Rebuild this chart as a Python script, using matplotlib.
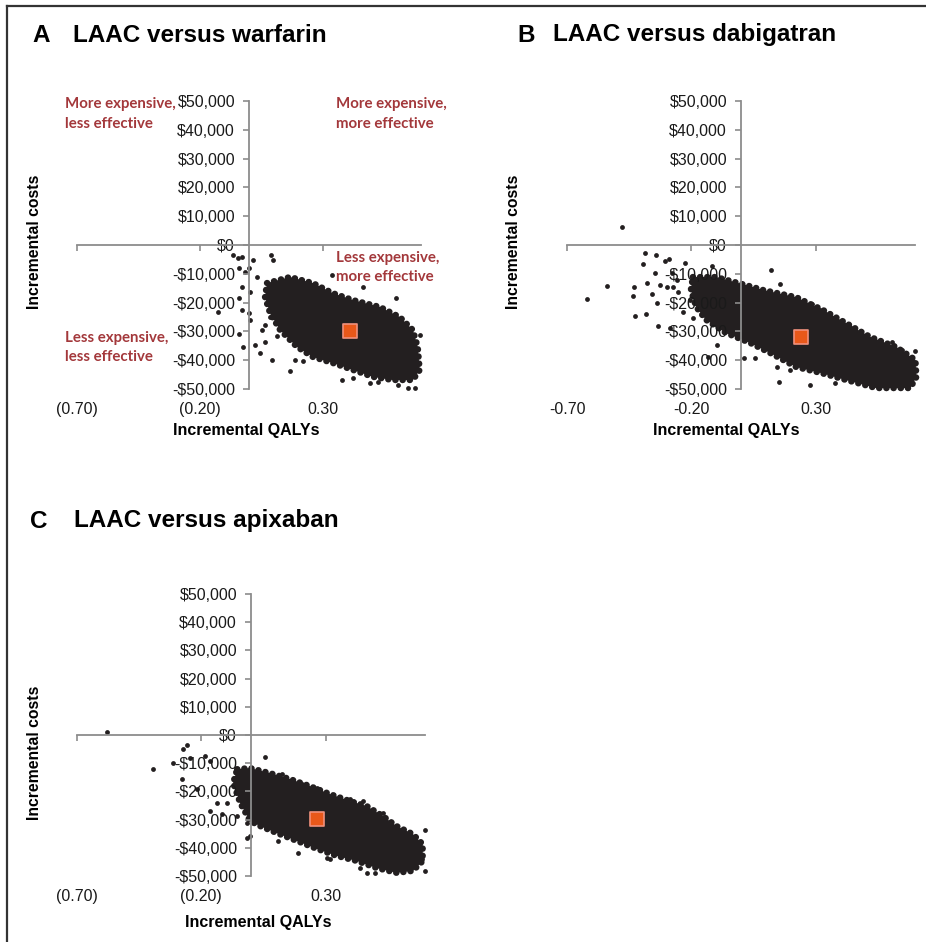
import matplotlib
matplotlib.use("Agg")
import matplotlib.pyplot as plt
from matplotlib.lines import Line2D

plt.rcParams['font.family'] = ['Liberation Sans', 'DejaVu Sans']

W, H = 926, 942

y_ticks = [-50000, -40000, -30000, -20000, -10000, 0, 10000, 20000, 30000, 40000, 50000]
x_ticks = [-0.70, -0.20, 0.30]
x_labels_paren = ['(0.70)', '(0.20)', '0.30']
x_labels_minus = ['-0.70', '-0.20', '0.30']

# A: LAAC versus warfarin  (dense cloud outline + scattered points)
a_cloud_x = [0.073, 0.167, 0.260, 0.341, 0.423, 0.533, 0.614, 0.667, 0.687, 0.695, 0.667, 0.585,
             0.504, 0.423, 0.341, 0.260, 0.195, 0.126, 0.085, 0.065]
a_cloud_y = [-13200, -11100, -13200, -16700, -19100, -21500, -25000, -29500, -35400, -43400, -46900, -46900,
             -45800, -43400, -41000, -38900, -35400, -29500, -23600, -18100]
a_pts_x = [-0.065, -0.045, -0.028, 0.016, 0.089, 0.098, -0.041, -0.016, 0.0, 0.033, -0.028, 0.004,
           -0.041, -0.028, -0.126, 0.0, 0.004, 0.053, -0.041, 0.065, -0.024, 0.024, 0.045, 0.093,
           0.114, 0.167, 0.187, 0.220, 0.260, 0.085, 0.065, 0.337, 0.463, 0.598, 0.378, 0.423,
           0.492, 0.524, 0.646, 0.675, 0.606, 0.695]
a_pts_y = [-3500, -4500, -4200, -5200, -3500, -5200, -8000, -9400, -8000, -11100, -14600, -16300,
           -18400, -22600, -23300, -23600, -26000, -29500, -30900, -33700, -35400, -34700, -37500, -39900,
           -31600, -43800, -39900, -40300, -37500, -25000, -27800, -10400, -14600, -18400, -46900, -46200,
           -47900, -47600, -49700, -49700, -48600, -31200]
a_mean = (0.41, -29900)

# B: LAAC versus dabigatran
b_cloud_x = [-0.194, -0.101, 0.020, 0.089, 0.222, 0.331, 0.423, 0.520, 0.625, 0.702, 0.706, 0.681,
             0.544, 0.423, 0.319, 0.222, 0.117, 0.036, -0.060, -0.141, -0.181, -0.202]
b_cloud_y = [-11100, -11100, -13900, -15600, -18100, -22600, -27100, -31900, -35400, -39900, -45800, -49700,
             -49700, -46900, -44400, -42400, -37500, -34000, -30600, -26000, -21500, -15600]
b_pts_x = [-0.480, -0.387, -0.343, -0.395, -0.306, -0.290, -0.226, -0.117, -0.540, -0.621, -0.431, -0.435,
           -0.427, -0.383, -0.379, -0.359, -0.339, -0.335, -0.286, -0.274, -0.254, -0.234, -0.194, -0.097,
           -0.133, -0.347, -0.327, -0.298, -0.258, -0.206, -0.278, 0.121, 0.157, 0.702, 0.153, 0.278,
           0.012, 0.056, 0.145, 0.198, 0.379, 0.609, 0.649, 0.286, 0.319, 0.440, 0.528]
b_pts_y = [6200, -2800, -3500, -6600, -5600, -4900, -6200, -7300, -14200, -18800, -14600, -17700,
           -24700, -24000, -13200, -17000, -20100, -28100, -28800, -14600, -16300, -23300, -25300, -34700,
           -38900, -9700, -13900, -14600, -12200, -19100, -9700, -8700, -13500, -36800, -47600, -48600,
           -39200, -39200, -42400, -43400, -47900, -33700, -36500, -20500, -22600, -28500, -33000]
b_mean = (0.242, -31900)

# C: LAAC versus apixaban
c_cloud_x = [-0.056, -0.004, 0.076, 0.157, 0.237, 0.317, 0.398, 0.466, 0.530, 0.586, 0.651, 0.691,
             0.691, 0.651, 0.586, 0.506, 0.426, 0.345, 0.265, 0.185, 0.104, 0.036, -0.004, -0.044, -0.072]
c_cloud_y = [-12100, -11700, -13500, -15600, -18100, -20900, -23400, -25200, -28700, -32300, -35100, -38700,
             -44700, -48200, -48900, -47200, -44700, -42900, -40400, -37600, -34800, -32300, -30500, -24100, -17000]
c_pts_x = [-0.578, -0.394, -0.273, -0.257, -0.313, -0.277, -0.245, -0.185, -0.165, -0.217, -0.137, -0.096,
           -0.165, -0.116, -0.056, -0.004, -0.016, -0.016, 0.056, 0.699, 0.699, 0.687, 0.466, 0.498,
           0.189, 0.305, 0.108, 0.265, 0.357, 0.450, 0.530, 0.639, 0.398, 0.606, 0.438, 0.317,
           0.237, 0.124, 0.205]
c_pts_y = [1100, -12100, -5000, -3500, -9900, -15600, -8200, -7400, -9200, -19100, -24100, -24100,
           -27000, -28000, -28700, -35800, -31200, -36500, -7800, -33700, -48200, -44000, -48900, -48900,
           -41800, -43600, -37600, -18800, -22700, -23400, -27700, -35100, -22700, -44700, -47200, -44000,
           -19900, -13800, -17400]
c_mean = (0.265, -29800)

dot = '#231f20'
axis_gray = '#8c8c8c'
quad_red = '#a3383b'

fig = plt.figure(figsize=(W / 100, H / 100), dpi=100)


def fx(px):
    return px / W


def fy(py):
    return 1 - py / H


def money(v):
    return '$0' if v == 0 else ('-$' if v < 0 else '$') + f'{abs(v):,.0f}'


def panel(box, cloud_x, cloud_y, pts_x, pts_y, mean, xlabels):
    x0, x1, y0, y1 = box
    ax = fig.add_axes([fx(x0), fy(y1), (x1 - x0) / W, (y1 - y0) / H])
    ax.set_xlim(-0.70, 0.70)
    ax.set_ylim(-50000, 50000)
    ax.patch.set_alpha(0)
    for s in ['top', 'right']:
        ax.spines[s].set_visible(False)
    for s in ['left', 'bottom']:
        ax.spines[s].set_position(('data', 0))
        ax.spines[s].set_color(axis_gray)
        ax.spines[s].set_linewidth(1.3)
    ax.set_yticks(y_ticks)
    ax.set_yticklabels([money(v) for v in y_ticks])
    ax.set_xticks(x_ticks)
    ax.tick_params(axis='x', direction='out', length=4, width=1.2, color=axis_gray, labelbottom=False)
    ax.tick_params(axis='y', direction='out', length=4, width=1.2, color=axis_gray,
                   labelsize=11.5, pad=6, labelcolor='#1a1a1a')
    for x, lab in zip(x_ticks, xlabels):
        ax.annotate(lab, (x, -50000), xytext=(0, -14.5), textcoords='offset points',
                    ha='center', va='center', fontsize=11.5, color='#1a1a1a')
    # dense part of the simulation cloud, with a beaded rim
    ax.fill(cloud_x, cloud_y, color=dot, lw=0, zorder=1, clip_on=False)
    ax.plot(cloud_x + cloud_x[:1], cloud_y + cloud_y[:1], color=dot, lw=4.5,
            linestyle=(0, (0.05, 1.1)), dash_capstyle='round', zorder=1, clip_on=False)
    ax.scatter(pts_x, pts_y, s=12, color=dot, lw=0, zorder=1, clip_on=False)
    ax.scatter([mean[0]], [mean[1]], marker='s', s=110, color='#e8581a', edgecolors='#f0907c',
               linewidths=1.2, zorder=3, clip_on=False)
    return ax


ax_a = panel((77, 421, 101, 389), a_cloud_x, a_cloud_y, a_pts_x, a_pts_y, a_mean, x_labels_paren)
ax_b = panel((567, 915, 101, 389), b_cloud_x, b_cloud_y, b_pts_x, b_pts_y, b_mean, x_labels_minus)
ax_c = panel((77, 425, 594, 876), c_cloud_x, c_cloud_y, c_pts_x, c_pts_y, c_mean, x_labels_paren)

# panel titles
for letter, title, lx, tx, ty in [('A', 'LAAC versus warfarin', 32, 73, 35),
                                  ('B', 'LAAC versus dabigatran', 517, 553, 35),
                                  ('C', 'LAAC versus apixaban', 30, 74, 521)]:
    fig.text(fx(lx), fy(ty), letter, fontsize=17.5, fontweight='bold', va='center')
    fig.text(fx(tx), fy(ty), title, fontsize=17.5, fontweight='bold', va='center')

# axis titles
for x, y in [(35, 242), (513, 242), (35, 753)]:
    fig.text(fx(x), fy(y), 'Incremental costs', rotation=90, fontsize=11.3, fontweight='bold',
             ha='center', va='center')
for x, y in [(246, 431), (726, 431), (258, 922)]:
    fig.text(fx(x), fy(y), 'Incremental QALYs', fontsize=11.5, fontweight='bold',
             ha='center', va='center')

# quadrant notes on panel A
quad = [(-0.75, 45500, 'More expensive,\nless effective'),
        (0.355, 45500, 'More expensive,\nmore effective'),
        (0.355, -7800, 'Less expensive,\nmore effective'),
        (-0.75, -35600, 'Less expensive,\nless effective')]
for x, y, t in quad:
    ax_a.text(x, y, t, color=quad_red, fontsize=10.8, fontweight='bold', family=['Lato', 'DejaVu Sans'],
              ha='left', va='center', linespacing=1.5, zorder=4, clip_on=False)

# frame lines of the original figure
fig.add_artist(Line2D([fx(7), fx(7)], [0, fy(6)], color='#333333', lw=1.6))
fig.add_artist(Line2D([fx(7), 1], [fy(6), fy(6)], color='#333333', lw=1.6))

fig.savefig('out.png', dpi=100)
